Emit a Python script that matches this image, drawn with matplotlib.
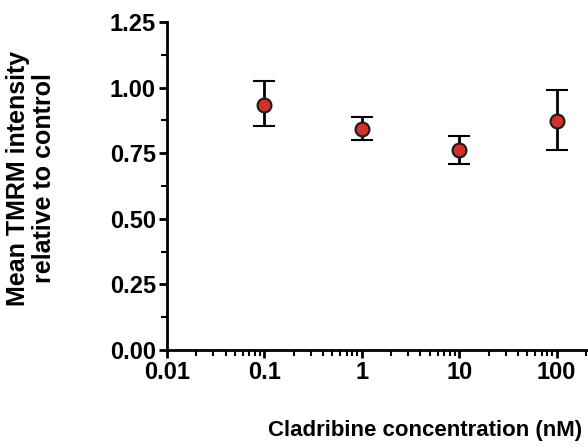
import matplotlib.pyplot as plt
from matplotlib.ticker import LogLocator, MultipleLocator, FixedFormatter, FixedLocator

plt.rcParams['font.family'] = ['Liberation Sans', 'DejaVu Sans']
plt.rcParams['font.weight'] = 'bold'

conc = [0.1, 1, 10, 100]
mean = [0.935, 0.842, 0.763, 0.874]
err_low = [0.08, 0.042, 0.054, 0.113]
err_high = [0.09, 0.045, 0.054, 0.118]

xticks = [0.01, 0.1, 1, 10, 100]
xticklabels = ['0.01', '0.1', '1', '10', '100']
yticks = [0.0, 0.25, 0.5, 0.75, 1.0, 1.25]

fig = plt.figure(figsize=(5.88, 4.48), dpi=100)
ax = fig.add_axes([0.284, 0.219, 0.716, 0.732])

ax.errorbar(conc, mean, yerr=[err_low, err_high], fmt='o', color='black',
            mfc='#d2302a', mec='#1a1a1a', ms=10, mew=1.5,
            elinewidth=2, capsize=8, capthick=2)

ax.set_xscale('log')
ax.set_xlim(0.01, 210)
ax.set_ylim(0, 1.25)
ax.xaxis.set_major_locator(FixedLocator(xticks))
ax.xaxis.set_major_formatter(FixedFormatter(xticklabels))
ax.xaxis.set_minor_locator(LogLocator(base=10, subs=range(2, 10)))
ax.set_yticks(yticks)
ax.set_yticklabels(['%.2f' % v for v in yticks])
ax.yaxis.set_minor_locator(MultipleLocator(0.125))

for s in ['top', 'right']:
    ax.spines[s].set_visible(False)
for s in ['left', 'bottom']:
    ax.spines[s].set_linewidth(2)

ax.tick_params(which='major', length=6, width=2, labelsize=17, direction='out', pad=2)
ax.tick_params(which='minor', length=4, width=1.5, direction='out')

fig.text(425 / 588, 1 - 430 / 448, 'Cladribine concentration (nM)', fontsize=16,
         fontweight='bold', ha='center', va='center')
fig.text(31 / 588, 1 - 178 / 448, 'Mean TMRM intensity\nrelative to control', fontsize=18,
         fontweight='bold', ha='center', va='center', rotation=90, linespacing=1.1)

fig.savefig('out.png', dpi=100)
